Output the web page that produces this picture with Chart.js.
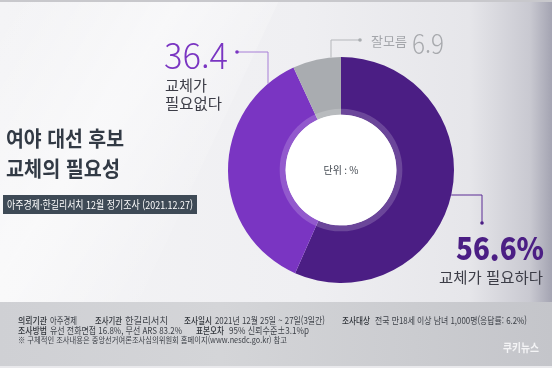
<!DOCTYPE html>
<html lang="ko">
<head>
<meta charset="utf-8">
<script src="https://cdn.jsdelivr.net/npm/chart.js@4.4.1/dist/chart.umd.min.js"></script>
<style>
  html, body { margin:0; padding:0; }
  body {
    width:552px; height:368px; position:relative; overflow:hidden;
    font-family:"Noto Sans CJK KR","Noto Sans",sans-serif;
    background: linear-gradient(to right, #f4f4f6 0%, #efeff2 55%, #e6e6ea 85%, #c9c9d1 96%, #a4a4b2 100%);
  }
  .topline { position:absolute; left:0; top:0; width:552px; height:2px; background:#c8c8cc; }
  .streak { position:absolute; left:-60px; top:-40px; width:260px; height:420px;
    background: linear-gradient(100deg, rgba(255,255,255,0) 0%, rgba(255,255,255,0.5) 50%, rgba(255,255,255,0) 100%);
    transform: skewX(-25deg); }
  #wrap { position:absolute; left:0; top:0; width:552px; height:368px; }
  .t { position:absolute; white-space:nowrap; transform-origin:0 50%; }
  .title { left:6px; font-size:21px; font-weight:700; color:#323a45; }
  .datebox { position:absolute; left:3px; top:195px; width:194px; height:19px; background:#3e4a56; }
  .footer { position:absolute; left:0; top:302px; width:552px; height:64px;
    background: linear-gradient(to right, #cfd0d4 0%, #d4d5d8 40%, #cbccd0 75%, #c4c5ca 100%); }
  .footer2 { position:absolute; left:0; top:366px; width:552px; height:2px; background:#e9e9ec; }
  .ft { font-size:9.5px; color:#3b3f46; line-height:12px; }
  .fb { font-weight:500; color:#30343a; }
</style>
</head>
<body>
<div class="streak"></div>
<div class="topline"></div>
<div class="footer"></div>
<div class="footer2"></div>
<div class="datebox"></div>
<div id="wrap"><canvas id="c" width="552" height="368"></canvas></div>

<div class="t title" style="top:122px;" data-w="118">여야 대선 후보</div>
<div class="t title" style="top:152px;" data-w="114">교체의 필요성</div>
<div class="t" style="left:7px; top:196px; font-size:11px; line-height:17px; color:#fff;" data-w="186">아주경제·한길리서치 12월 정기조사 (2021.12.27)</div>

<div class="t" id="lbl1num" style="left:164px; top:28px; font-size:35px; font-weight:300; color:#7a35c2;" data-w="64"></div>
<div class="t" id="lbl1a" style="left:165px; top:76px; font-size:14.5px; line-height:18px; color:#3c3d47;" data-w="42">교체가</div>
<div class="t" id="lbl1b" style="left:165px; top:94px; font-size:14.5px; line-height:18px; color:#3c3d47;" data-w="57">필요없다</div>

<div class="t" id="lbl3txt" style="left:371px; top:31px; font-size:13px; color:#a3a5aa;" data-w="36"></div>
<div class="t" id="lbl3num" style="left:412px; top:23px; font-size:27px; font-weight:300; color:#a7a9ad;" data-w="32"></div>

<div class="t" id="lbl2num" style="left:456px; top:224px; font-size:31px; font-weight:900; color:#4b1e84;" data-w="88"></div>
<div class="t" id="lbl2txt" style="left:439px; top:266px; font-size:15px; color:#3c3d47;" data-w="104"></div>

<div class="t ft fb" style="left:18px; top:314px;" data-w="29">의뢰기관</div>
<div class="t ft" style="left:50px; top:314px;" data-w="27">아주경제</div>
<div class="t ft fb" style="left:95px; top:314px;" data-w="27">조사기관</div>
<div class="t ft" style="left:125px; top:314px;" data-w="43">한길리서치</div>
<div class="t ft fb" style="left:184px; top:314px;" data-w="28">조사일시</div>
<div class="t ft" style="left:215px; top:314px;" data-w="110">2021년 12월 25일 ~ 27일(3일간)</div>
<div class="t ft fb" style="left:342px; top:314px;" data-w="28">조사대상</div>
<div class="t ft" style="left:375px; top:314px;" data-w="152">전국 만18세 이상 남녀 1,000명(응답률: 6.2%)</div>
<div class="t ft fb" style="left:18px; top:324px;" data-w="29">조사방법</div>
<div class="t ft" style="left:50px; top:324px;" data-w="132">유선 전화면접 16.8%, 무선 ARS 83.2%</div>
<div class="t ft fb" style="left:196px; top:324px;" data-w="28">표본오차</div>
<div class="t ft" style="left:229px; top:324px;" data-w="80">95% 신뢰수준±3.1%p</div>
<div class="t ft" style="left:18px; top:333px; font-size:8.5px;" data-w="269">※ 구체적인 조사내용은 중앙선거여론조사심의위원회 홈페이지(www.nesdc.go.kr) 참고</div>
<div class="t ft" style="left:503px; top:341px; font-size:11px; color:#f4f4f6; font-weight:700;" data-w="36">쿠키뉴스</div>

<script>
const categories = ["교체가 필요하다", "교체가 필요없다", "잘모름"];
const values = [56.6, 36.4, 6.9];
const colors = ["#4b1e84", "#7a35c2", "#a9acb0"];
const unitLabel = "단위 : %";

document.getElementById("lbl2num").textContent = values[0].toFixed(1) + "%";
document.getElementById("lbl2txt").textContent = categories[0];
document.getElementById("lbl1num").textContent = values[1].toFixed(1);
document.getElementById("lbl3num").textContent = values[2].toFixed(1);
document.getElementById("lbl3txt").textContent = categories[2];

function fitAll() {
  document.querySelectorAll("[data-w]").forEach(el => {
    el.style.transform = "none";
    const w = el.getBoundingClientRect().width;
    const target = parseFloat(el.dataset.w);
    if (w > 0) el.style.transform = "scaleX(" + (target / w) + ")";
  });
}

const decor = {
  id: "decor",
  afterDatasetsDraw(chart) {
    const ctx = chart.ctx;
    const arc = chart.getDatasetMeta(0).data[0];
    const cx = arc.x, cy = arc.y, R = arc.outerRadius, r = arc.innerRadius;
    ctx.save();
    ctx.beginPath();
    ctx.arc(cx, cy, r + 6, 0, Math.PI * 2);
    ctx.fillStyle = "rgba(255,255,255,0.18)";
    ctx.fill();
    ctx.beginPath();
    ctx.arc(cx, cy, r, 0, Math.PI * 2);
    ctx.fillStyle = "#ffffff";
    ctx.fill();
    ctx.fillStyle = "#444a52";
    ctx.font = "10px 'Noto Sans CJK KR'";
    ctx.textAlign = "center";
    ctx.textBaseline = "middle";
    ctx.fillText(unitLabel, cx, cy);

    ctx.lineWidth = 1;
    function dot(x, y, c) { ctx.beginPath(); ctx.arc(x, y, 1.8, 0, Math.PI*2); ctx.fillStyle = c; ctx.fill(); }
    let y1 = cy + 25, x1 = cx + Math.sqrt(R*R - 25*25);
    ctx.strokeStyle = "#5a2a94";
    ctx.beginPath(); ctx.moveTo(x1, y1); ctx.lineTo(cx + R + 28, y1); ctx.lineTo(cx + R + 28, y1 + 28); ctx.stroke();
    dot(cx + R + 28, y1 + 28, "#4b1e84");
    let vx = cx - 73, vy = cy - Math.sqrt(R*R - 73*73);
    ctx.strokeStyle = "#a77ed6";
    ctx.beginPath(); ctx.moveTo(vx, vy); ctx.lineTo(vx, cy - 118); ctx.lineTo(cx - 104, cy - 118); ctx.stroke();
    dot(cx - 104, cy - 118, "#7a35c2");
    let gx = cx - 10, gy = cy - Math.sqrt(R*R - 100);
    ctx.strokeStyle = "#b5b7bb";
    ctx.beginPath(); ctx.moveTo(gx, gy); ctx.lineTo(gx, cy - 130); ctx.lineTo(cx + 19, cy - 130); ctx.stroke();
    dot(cx + 19, cy - 130, "#a9acb0");
    ctx.restore();
  }
};

new Chart(document.getElementById("c"), {
  type: "doughnut",
  data: {
    labels: categories,
    datasets: [{ data: values, backgroundColor: colors, borderWidth: 0, hoverOffset: 0 }]
  },
  options: {
    responsive: false,
    animation: false,
    cutout: "49%",
    rotation: 0,
    layout: { padding: { left: 228, right: 98, top: 57, bottom: 85 } },
    plugins: { legend: { display: false }, tooltip: { enabled: false } }
  },
  plugins: [decor]
});

fitAll();
if (document.fonts && document.fonts.ready) document.fonts.ready.then(fitAll);
</script>
</body>
</html>
